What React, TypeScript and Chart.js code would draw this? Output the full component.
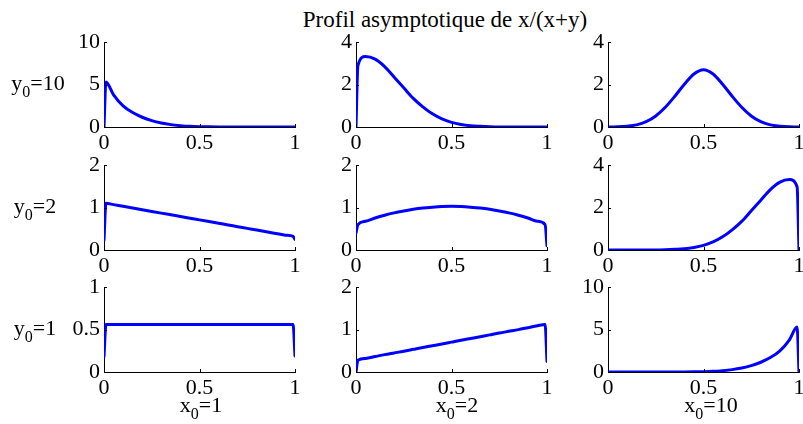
import React, { useEffect, useRef } from 'react';
import { Chart, registerables } from 'chart.js';

Chart.register(...registerables);

// ---------- data ----------
const titleText = 'Profil asymptotique de x/(x+y)';
const rowY0Labels = ['10', '2', '1'];
const colX0Labels = ['1', '2', '10'];

const xGrid = [0, 0.01, 0.05, 0.1, 0.15, 0.2, 0.25, 0.3, 0.35, 0.4, 0.45, 0.5, 0.55, 0.6, 0.65, 0.7, 0.75, 0.8, 0.85, 0.9, 0.95, 0.99, 1];
const xTickValues = [0, 0.5, 1];

// row y0=10
const profY10X1 = [0, 5.3, 3.8, 2.5, 1.7, 1.15, 0.75, 0.47, 0.28, 0.16, 0.08, 0.04, 0.02, 0.008, 0.003, 0.001, 0, 0, 0, 0, 0, 0, 0];
const profY10X2 = [0, 2.9, 3.32, 3.2, 2.85, 2.35, 1.85, 1.35, 0.95, 0.62, 0.38, 0.22, 0.12, 0.06, 0.03, 0.01, 0, 0, 0, 0, 0, 0, 0];
const profY10X10 = [0, 0, 0.01, 0.04, 0.1, 0.25, 0.52, 0.93, 1.45, 2.02, 2.5, 2.7, 2.5, 2.02, 1.45, 0.93, 0.52, 0.25, 0.1, 0.04, 0.01, 0, 0];
// row y0=2
const profY2X1 = [0.23, 1.1, 1.07, 1.03, 0.99, 0.95, 0.91, 0.87, 0.83, 0.79, 0.75, 0.71, 0.67, 0.63, 0.59, 0.55, 0.51, 0.47, 0.43, 0.39, 0.35, 0.32, 0.25];
const profY2X2 = [0.4, 0.6, 0.68, 0.755, 0.82, 0.875, 0.92, 0.96, 0.99, 1.01, 1.025, 1.03, 1.025, 1.01, 0.99, 0.96, 0.92, 0.875, 0.82, 0.755, 0.68, 0.6, 0.1];
const profY2X10 = [0, 0, 0, 0, 0, 0, 0, 0.01, 0.03, 0.06, 0.12, 0.22, 0.38, 0.62, 0.95, 1.35, 1.85, 2.35, 2.85, 3.2, 3.32, 2.98, 0];
// row y0=1
const profY1X1 = [0.18, 0.56, 0.56, 0.56, 0.56, 0.56, 0.56, 0.56, 0.56, 0.56, 0.56, 0.56, 0.56, 0.56, 0.56, 0.56, 0.56, 0.56, 0.56, 0.56, 0.56, 0.56, 0.19];
const profY1X2 = [0, 0.28, 0.32, 0.365, 0.41, 0.45, 0.49, 0.535, 0.58, 0.62, 0.66, 0.705, 0.75, 0.79, 0.83, 0.875, 0.92, 0.96, 1.0, 1.045, 1.09, 1.12, 0.25];
const profY1X10 = [0, 0, 0, 0, 0, 0, 0, 0.001, 0.003, 0.008, 0.02, 0.04, 0.08, 0.16, 0.28, 0.47, 0.75, 1.15, 1.7, 2.5, 3.8, 5.3, 0];

const panelValues = [
  [profY10X1, profY10X2, profY10X10],
  [profY2X1, profY2X2, profY2X10],
  [profY1X1, profY1X2, profY1X10],
];
const yAxisMax = [
  [10, 4, 4],
  [2, 2, 4],
  [1, 2, 10],
];
const yAxisStep = [
  [5, 2, 2],
  [1, 1, 2],
  [0.5, 1, 5],
];

// ---------- layout ----------
const COL_LEFT = [104, 356, 608];
const ROW_TOP = [40, 163, 285];
const PLOT_W = 191;
const PLOT_H = 87;
const AX_L = 60;
const AX_B = 32;
const PAD_T = 15;
const PAD_R = 15;
const CW = AX_L + PLOT_W + PAD_R;
const CH = PAD_T + PLOT_H + AX_B;
const FONT = '"Liberation Serif", "Times New Roman", serif';
const TICK_FONT = { family: FONT, size: 22 };
const fmtTick = (v: any) => String(Number(v));

const innerTicks = {
  id: 'innerTicks',
  afterDatasetsDraw(chart: any) {
    const { ctx, chartArea, scales } = chart;
    ctx.save();
    ctx.strokeStyle = '#000';
    ctx.lineWidth = 1;
    for (const t of scales.x.ticks) {
      const px = Math.round(scales.x.getPixelForValue(t.value)) + 0.5;
      ctx.beginPath();
      ctx.moveTo(px, chartArea.bottom);
      ctx.lineTo(px, chartArea.bottom - 3);
      ctx.stroke();
    }
    for (const t of scales.y.ticks) {
      const py = Math.round(scales.y.getPixelForValue(t.value)) + 0.5;
      ctx.beginPath();
      ctx.moveTo(chartArea.left, py);
      ctx.lineTo(chartArea.left + 3, py);
      ctx.stroke();
    }
    ctx.restore();
  },
};

function Panel({ r, c }: { r: number; c: number }) {
  const ref = useRef<HTMLCanvasElement>(null);
  useEffect(() => {
    const values = panelValues[r][c];
    const chart = new Chart(ref.current as HTMLCanvasElement, {
      type: 'line',
      data: {
        datasets: [
          {
            data: xGrid.map((x, i) => ({ x, y: values[i] })),
            borderColor: 'rgb(0,0,255)',
            borderWidth: 3,
            pointRadius: 0,
            fill: false,
            cubicInterpolationMode: 'monotone',
            borderJoinStyle: 'round',
            borderCapStyle: 'round',
          },
        ],
      },
      options: {
        animation: false,
        responsive: false,
        maintainAspectRatio: false,
        devicePixelRatio: 1,
        events: [],
        layout: { padding: { left: 0, top: PAD_T, right: PAD_R, bottom: 0 } },
        plugins: { legend: { display: false }, tooltip: { enabled: false } },
        scales: {
          x: {
            type: 'linear',
            min: 0,
            max: 1,
            afterBuildTicks: (s: any) => {
              s.ticks = xTickValues.map((v) => ({ value: v }));
            },
            afterFit: (s: any) => {
              s.height = AX_B;
            },
            grid: { display: false, drawTicks: false },
            border: { display: true, color: '#000', width: 1 },
            ticks: { font: TICK_FONT, color: '#000', padding: 3, maxRotation: 0, autoSkip: false, callback: fmtTick },
          },
          y: {
            type: 'linear',
            min: 0,
            max: yAxisMax[r][c],
            afterFit: (s: any) => {
              s.width = AX_L;
            },
            grid: { display: false, drawTicks: false },
            border: { display: true, color: '#000', width: 1 },
            ticks: { stepSize: yAxisStep[r][c], font: TICK_FONT, color: '#000', padding: 4, callback: fmtTick },
          },
        },
      } as any,
      plugins: [innerTicks],
    });
    return () => chart.destroy();
  }, [r, c]);
  return (
    <canvas
      ref={ref}
      width={CW}
      height={CH}
      style={{ position: 'absolute', left: COL_LEFT[c] - AX_L, top: ROW_TOP[r] - PAD_T, width: CW, height: CH }}
    />
  );
}

function SubLabel({ base, val, cx, baseline }: { base: string; val: string; cx: number; baseline: number }) {
  const fs = 22;
  return (
    <div
      style={{
        position: 'absolute',
        left: cx - 80,
        width: 160,
        textAlign: 'center',
        top: baseline - 0.8375 * fs,
        fontSize: fs,
        lineHeight: fs + 'px',
        fontFamily: FONT,
        color: '#000',
        whiteSpace: 'nowrap',
      }}
    >
      {base}
      <span style={{ fontSize: 16, position: 'relative', top: 7 }}>0</span>={val}
    </div>
  );
}

export default function App() {
  const rowLabelCx = [38, 35, 35];
  const colLabelCx = [201, 457, 711];
  return (
    <div style={{ position: 'fixed', left: 0, top: 0, width: 803, height: 424, background: '#fff', overflow: 'hidden' }}>
      <div
        style={{
          position: 'absolute',
          left: 445 - 250,
          width: 500,
          textAlign: 'center',
          top: 27 - 0.8375 * 23,
          fontSize: 23,
          lineHeight: '23px',
          fontFamily: FONT,
          color: '#000',
          whiteSpace: 'nowrap',
        }}
      >
        {titleText}
      </div>
      {[0, 1, 2].map((r) =>
        [0, 1, 2].map((c) => <Panel key={r + '-' + c} r={r} c={c} />)
      )}
      {rowY0Labels.map((v, r) => (
        <SubLabel key={'r' + r} base="y" val={v} cx={rowLabelCx[r]} baseline={ROW_TOP[r] + PLOT_H / 2 + 7} />
      ))}
      {colX0Labels.map((v, c) => (
        <SubLabel key={'c' + c} base="x" val={v} cx={colLabelCx[c]} baseline={412} />
      ))}
    </div>
  );
}
